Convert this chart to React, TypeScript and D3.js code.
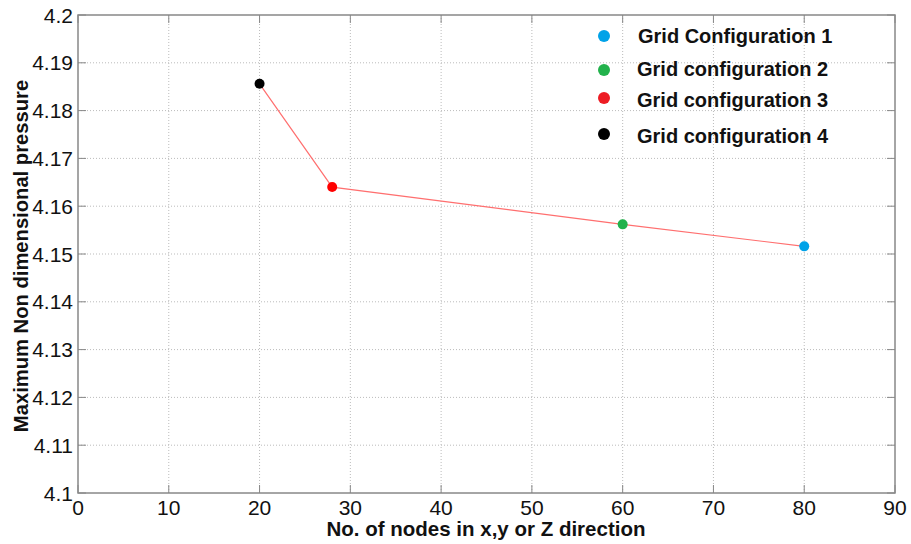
import React from "react";
import * as d3 from "d3";

const nodes = [20, 28, 60, 80];
const pressure = [4.1856, 4.164, 4.1562, 4.1516];
const pointColors = ["#000000", "#ff0000", "#22b24c", "#00a2e8"];
const legendLabels = ["Grid Configuration 1", "Grid configuration 2", "Grid configuration 3", "Grid configuration 4"];
const legendColors = ["#00a2e8", "#22b24c", "#ed1c24", "#000000"];
const xTicks = [0, 10, 20, 30, 40, 50, 60, 70, 80, 90];
const yTicks = [4.1, 4.11, 4.12, 4.13, 4.14, 4.15, 4.16, 4.17, 4.18, 4.19, 4.2];

const W = 911, H = 544;
const L = 78, R = 895, T = 15, B = 493;

export default function App() {
  const x = d3.scaleLinear().domain([0, 90]).range([L, R]);
  const y = d3.scaleLinear().domain([4.1, 4.2]).range([B, T]);
  const line = d3.line<number>().x((_, i) => x(nodes[i])).y((d) => y(d));
  const font = "Arial, 'Liberation Sans', Helvetica, sans-serif";
  const legendDotY = [36, 70, 98, 134];
  const legendTextY = [42.7, 75.5, 106.5, 143];
  return (
    <svg width={W} height={H} style={{ position: "absolute", left: 0, top: 0, background: "#fff" }} fontFamily={font}>
      <rect x={0} y={0} width={W} height={H} fill="#fff" />
      {xTicks.slice(1, -1).map((t) => (
        <line key={"gx" + t} x1={x(t)} x2={x(t)} y1={T} y2={B} stroke="#bbb" strokeWidth={1} strokeDasharray="1,2" />
      ))}
      {yTicks.slice(1, -1).map((t) => (
        <line key={"gy" + t} x1={L} x2={R} y1={y(t)} y2={y(t)} stroke="#bbb" strokeWidth={1} strokeDasharray="1,2" />
      ))}
      {xTicks.map((t) => (
        <g key={"tx" + t}>
          <line x1={x(t)} x2={x(t)} y1={B} y2={B - 8} stroke="#888" />
          <line x1={x(t)} x2={x(t)} y1={T} y2={T + 8} stroke="#888" />
          <text x={x(t)} y={515} textAnchor="middle" fontSize={21} fill="#111">{t}</text>
        </g>
      ))}
      {yTicks.map((t) => (
        <g key={"ty" + t}>
          <line x1={L} x2={L + 8} y1={y(t)} y2={y(t)} stroke="#888" />
          <line x1={R} x2={R - 8} y1={y(t)} y2={y(t)} stroke="#888" />
          <text x={73} y={y(t) + 7.5} textAnchor="end" fontSize={21} fill="#111">{d3.format("")(+t.toFixed(2))}</text>
        </g>
      ))}
      <rect x={L} y={T} width={R - L} height={B - T} fill="none" stroke="#888" strokeWidth={1.5} />
      <path d={line(pressure) || ""} fill="none" stroke="#ff6f6f" strokeWidth={1.2} />
      {pressure.map((p, i) => (
        <circle key={"p" + i} cx={x(nodes[i])} cy={y(p)} r={5} fill={pointColors[i]} />
      ))}
      {legendLabels.map((lab, i) => (
        <g key={"lg" + i}>
          <circle cx={604} cy={legendDotY[i]} r={6} fill={legendColors[i]} />
          <text x={i === 0 ? 638 : 637} y={legendTextY[i]} fontSize={20} fontWeight="bold" fill="#111">{lab}</text>
        </g>
      ))}
      <text x={486} y={536} textAnchor="middle" fontSize={20.5} fontWeight="bold" fill="#111">No. of nodes in x,y or Z direction</text>
      <text transform={`translate(28,256) rotate(-90)`} textAnchor="middle" fontSize={20.2} fontWeight="bold" fill="#111">Maximum Non dimensional pressure</text>
    </svg>
  );
}
